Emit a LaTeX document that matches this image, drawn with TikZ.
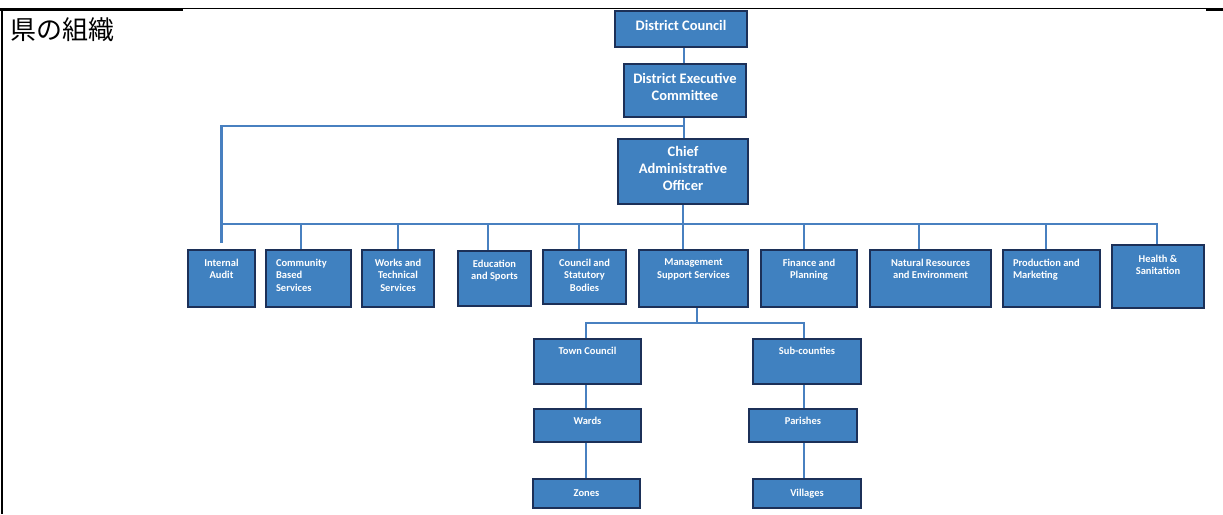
\documentclass[tikz,border=0pt]{standalone}
\usepackage{fontspec}
\setmainfont{Carlito}
\newfontfamily\jpfont{Noto Sans CJK JP}
\definecolor{boxfill}{RGB}{64,129,192}
\definecolor{boxline}{RGB}{28,48,88}
\definecolor{wirec}{RGB}{72,128,192}
\begin{document}
\begin{tikzpicture}[x=1pt,y=-1pt,
  box/.style={draw=boxline, fill=boxfill, line width=2.4pt, inner sep=0pt},
  big/.style={text=white, font=\fontsize{14.5}{17}\selectfont\bfseries, align=center, inner sep=0pt, anchor=north},
  small/.style={text=white, font=\fontsize{10.5}{12.5}\selectfont\bfseries, align=center, inner sep=0pt, anchor=north},
  smallleft/.style={small, align=left, anchor=north west},
  wire/.style={draw=wirec, line width=2.8pt},
]
\useasboundingbox (0,0) rectangle (1223,514);

% page frame
\fill (0,7.7) rectangle (1206,8.8);
\fill (0,8) rectangle (183,10.5);
\fill (1206,8) rectangle (1223,10.5);
\fill (0.5,8) rectangle (3.3,514);

\node[anchor=north west, inner sep=0pt, font=\jpfont\fontsize{26}{26}\selectfont] (title) at (10,17) {県の組織};

% junctions of the connector lines
\coordinate (j1) at (684,126);
\coordinate (j2) at (683,224);
\coordinate (j3) at (697,323);

% top of the hierarchy
\node[box, minimum width=132, minimum height=36] (dc) at (681,29) {};
\node[box, minimum width=122, minimum height=53] (dec) at (685,90.5) {};
\node[box, minimum width=130, minimum height=65] (cao) at (683,171.5) {};

% departments
\node[box, minimum width=67, minimum height=57] (ia) at (221.5,278.5) {};
\node[box, minimum width=85, minimum height=57] (cbs) at (308.5,278.5) {};
\node[box, minimum width=72, minimum height=57] (wts) at (398,278.5) {};
\node[box, minimum width=73, minimum height=55] (es) at (494.5,278.5) {};
\node[box, minimum width=83, minimum height=54] (csb) at (584.5,277) {};
\node[box, minimum width=109, minimum height=57] (mss) at (693.5,278.5) {};
\node[box, minimum width=96, minimum height=57] (fp) at (809,278.5) {};
\node[box, minimum width=121, minimum height=57] (nre) at (930.5,278.5) {};
\node[box, minimum width=97, minimum height=57] (pm) at (1051.5,278.5) {};
\node[box, minimum width=92, minimum height=63] (hs) at (1158,276.5) {};

% local government units
\node[box, minimum width=107, minimum height=45] (tc) at (587.5,361.5) {};
\node[box, minimum width=108, minimum height=45] (sc) at (807,361.5) {};
\node[box, minimum width=107, minimum height=33] (wd) at (587.5,425.5) {};
\node[box, minimum width=108, minimum height=33] (pa) at (803,425.5) {};
\node[box, minimum width=107, minimum height=29] (zn) at (586.5,493.5) {};
\node[box, minimum width=108, minimum height=29] (vl) at (807,493.5) {};

% box captions
\node[big] (dc-t) at ([yshift=-10pt]dc.north) {District Council};
\node[big] (dec-t) at ([yshift=-10pt]dec.north) {District Executive\\Committee};
\node[big] (cao-t) at ([yshift=-8pt]cao.north) {Chief\\Administrative\\Officer};
\node[small] (ia-t) at ([yshift=-10pt]ia.north) {Internal\\Audit};
\node[smallleft] (cbs-t) at ([xshift=11pt,yshift=-10pt]cbs.north west) {Community\\Based\\Services};
\node[small] (wts-t) at ([yshift=-10pt]wts.north) {Works and\\Technical\\Services};
\node[small] (es-t) at ([yshift=-10pt]es.north) {Education\\and Sports};
\node[small] (csb-t) at ([yshift=-10pt]csb.north) {Council and\\Statutory\\Bodies};
\node[small] (mss-t) at ([yshift=-10pt]mss.north) {Management\\Support Services};
\node[small] (fp-t) at ([yshift=-10pt]fp.north) {Finance and\\Planning};
\node[small] (nre-t) at ([yshift=-10pt]nre.north) {Natural Resources\\and Environment};
\node[smallleft] (pm-t) at ([xshift=11pt,yshift=-10pt]pm.north west) {Production and\\Marketing};
\node[small] (hs-t) at ([yshift=-11pt]hs.north) {Health \&\\Sanitation};
\node[small] (tc-t) at ([yshift=-9pt]tc.north) {Town Council};
\node[small] (sc-t) at ([yshift=-9pt]sc.north) {Sub-counties};
\node[small] (wd-t) at ([yshift=-9pt]wd.north) {Wards};
\node[small] (pa-t) at ([yshift=-9pt]pa.north) {Parishes};
\node[small, anchor=center] (zn-t) at (zn) {Zones};
\node[small, anchor=center] (vl-t) at (vl) {Villages};

% connectors
\draw[wire] (dc.south -| j1) -- (dec.north -| j1);
\draw[wire] (dec.south -| j1) -- (cao.north -| j1);
\draw[wire] (j1) -| ([yshift=6pt]ia.north);
\draw[wire] (cao.south -| j2) -- (mss.north -| j2);
\draw[wire] (ia.north |- j2) -| ([xshift=-1pt]hs.north);
\foreach \n/\dx in {cbs/-7.5, wts/0, es/-6.5, csb/-5.5, fp/-5, nre/-11.5, pm/-5.5}
  \draw[wire] ([xshift=\dx pt]\n.north |- j2) -- ([xshift=\dx pt]\n.north);
\draw[wire] (mss.south -| j3) -- (j3);
\draw[wire] ([xshift=-1.5pt]tc.north) |- (j3) -| ([xshift=-3pt]sc.north);
\draw[wire] ([xshift=-1.5pt]tc.south) -- ([xshift=-1.5pt]wd.north);
\draw[wire] ([xshift=-1.5pt]wd.south) -- ([xshift=-1.5pt]wd.south |- zn.north);
\draw[wire] ([xshift=-3pt]sc.south) -- ([xshift=-3pt]sc.south |- pa.north);
\draw[wire] ([xshift=1pt]pa.south) -- ([xshift=1pt]pa.south |- vl.north);
\end{tikzpicture}
\end{document}
